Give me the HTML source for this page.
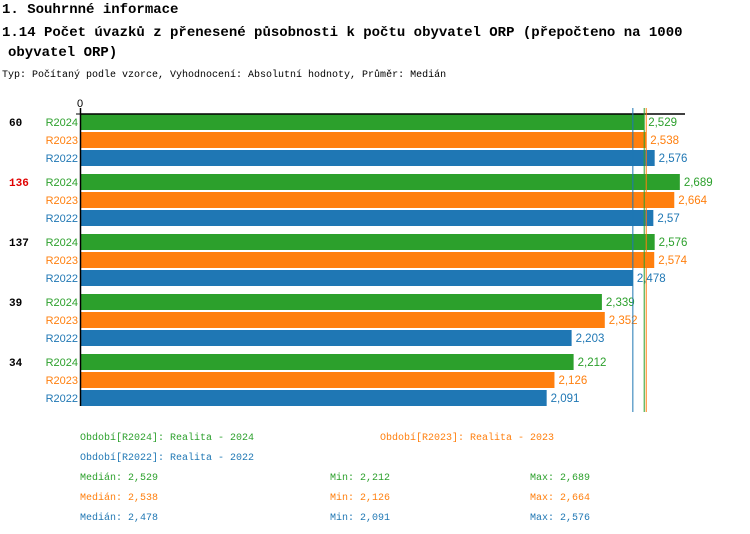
<!DOCTYPE html>
<html><head><meta charset="utf-8"><style>
body{margin:0;background:#fff;width:750px;height:534px;overflow:hidden;font-family:"Liberation Mono","DejaVu Sans Mono",monospace}
svg{display:block}
</style></head><body>
<svg id="c" width="750" height="534" xmlns="http://www.w3.org/2000/svg">
<text x="2" y="13" font-size="14" font-weight="bold" font-family="Liberation Mono, monospace">1. Souhrnné informace</text>
<text x="2" y="36" font-size="14" font-weight="bold" font-family="Liberation Mono, monospace">1.14 Počet úvazků z přenesené působnosti k počtu obyvatel ORP (přepočteno na 1000</text>
<text x="8" y="56" font-size="14" font-weight="bold" font-family="Liberation Mono, monospace">obyvatel ORP)</text>
<text x="2" y="77" font-size="10" font-family="Liberation Mono, monospace">Typ: Počítaný podle vzorce, Vyhodnocení: Absolutní hodnoty, Průměr: Medián</text>
<g id="plot"></g>
</svg>
<script>
const groups=["60","136","137","39","34"];
const groupColors=["#000","#e00000","#000","#000","#000"];
const series=["R2024","R2023","R2022"];
const v2024=[2.529,2.689,2.576,2.339,2.212];
const v2023=[2.538,2.664,2.574,2.352,2.126];
const v2022=[2.576,2.57,2.478,2.203,2.091];
const labels2024=["2,529","2,689","2,576","2,339","2,212"];
const labels2023=["2,538","2,664","2,574","2,352","2,126"];
const labels2022=["2,576","2,57","2,478","2,203","2,091"];
const medians=[2.529,2.538,2.478];
const colors=["#2ca02c","#ff7f0e","#1f77b4"];
const NS="http://www.w3.org/2000/svg";
const SANS="Liberation Sans, DejaVu Sans, sans-serif";
const g=document.getElementById('plot');
const x0=81,scale=222.7;
const xs=v=>x0+v*scale;
const top0=114;
function mk(t,a){const e=document.createElementNS(NS,t);for(const k in a)e.setAttribute(k,a[k]);g.appendChild(e);return e;}
const vals=[v2024,v2023,v2022],labs=[labels2024,labels2023,labels2022];
groups.forEach((gr,i)=>{
  const gy=top0+i*60;
  const t=mk('text',{x:9,y:gy+12,'font-size':11,'font-weight':'bold',fill:groupColors[i]});t.textContent=gr;
  
  
  series.forEach((s,j)=>{
    const y=gy+j*18;
    const l=mk('text',{x:78,y:y+12,'font-size':11,'font-family':SANS,fill:colors[j],'text-anchor':'end'});l.textContent=s;
    
    
    const r=mk('rect',{x:x0,y:y,width:xs(vals[j][i])-x0,height:16,fill:colors[j]});
    
    
    const vl=mk('text',{x:xs(vals[j][i])+4,y:y+12,'font-size':11.5,'font-family':SANS,fill:colors[j]});vl.textContent=labs[j][i];
    
    
  });
});
const ax=mk('line',{x1:80,y1:114,x2:685,y2:114,stroke:'#000','stroke-width':1.5});


const ay=mk('line',{x1:80.5,y1:108,x2:80.5,y2:406,stroke:'#000','stroke-width':1.5});


const tk=mk('line',{x1:76,y1:114,x2:80,y2:114,stroke:'#000'});


const z=mk('text',{x:80,y:107,'font-size':11,'font-family':SANS,'text-anchor':'middle'});z.textContent='0';


medians.forEach((m,j)=>{
  const ml=mk('line',{x1:xs(m),y1:108,x2:xs(m),y2:412,stroke:colors[j],'stroke-width':1});
  
  
});
const legend=[["Období[R2024]: Realita - 2024",80,440,0],["Období[R2023]: Realita - 2023",380,440,1],["Období[R2022]: Realita - 2022",80,460,2]];
legend.forEach(l=>{const t=mk('text',{x:l[1],y:l[2],'font-size':10,fill:colors[l[3]]});t.textContent=l[0];
  
  });
const mins=[Math.min(...v2024),Math.min(...v2023),Math.min(...v2022)];
const maxs=[Math.max(...v2024),Math.max(...v2023),Math.max(...v2022)];
const f=v=>String(v).replace('.',',');
[0,1,2].forEach(j=>{
  const y=480+j*20;
  [["Medián: "+f(medians[j]),80],["Min: "+f(mins[j]),330],["Max: "+f(maxs[j]),530]].forEach(s=>{
    const t=mk('text',{x:s[1],y:y,'font-size':10,fill:colors[j]});t.textContent=s[0];
    
    
  });
});
</script>
</body></html>
